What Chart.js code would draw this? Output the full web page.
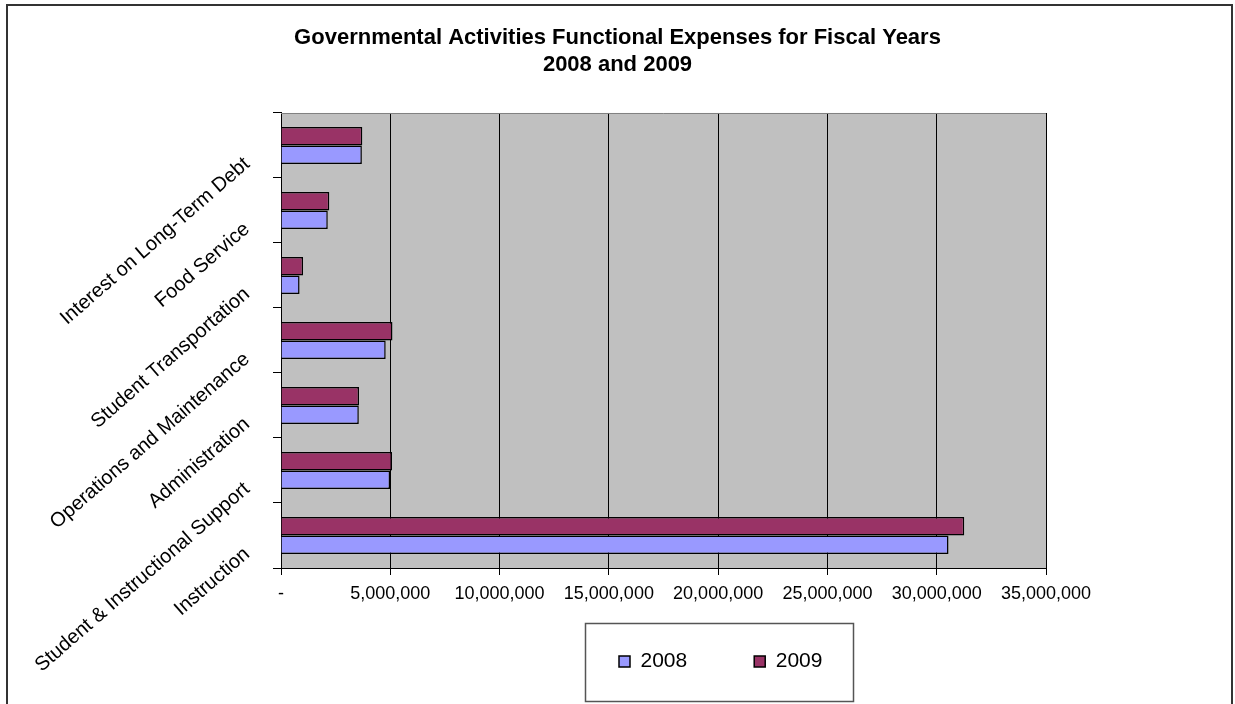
<!DOCTYPE html>
<html lang="en">
<head>
    <meta charset="UTF-8">
    <title>Governmental Activities Functional Expenses</title>
    <script src="https://cdn.jsdelivr.net/npm/chart.js"></script>
    <style>
        body {
            margin: 0;
            background: #fff;
            overflow: hidden;
        }

        /* area do grafico, tamanho fixo da janela */
        .chart-wrap {
            position: relative;
            width: 1235px;
            height: 704px;
        }

        /* moldura externa do grafico (estilo Excel) */
        .frame {
            position: absolute;
            left: 6px;
            top: 4px;
            width: 1227px;
            height: 760px;
            box-sizing: border-box;
            border: 2px solid #333;
            pointer-events: none;
        }
    </style>
</head>
<body>

    <div class="chart-wrap">
        <canvas id="expChart"></canvas>
        <div class="frame"></div>
    </div>

    <script>
        // Categorias, de cima para baixo
        const categories = [
            'Interest on Long-Term Debt',
            'Food Service',
            'Student Transportation',
            'Operations and Maintenance',
            'Administration',
            'Student & Instructional Support',
            'Instruction'
        ];

        // Valores
        const values2008 = [3700000, 2140000, 850000, 4790000, 3560000, 4990000, 30540000];
        const values2009 = [3720000, 2210000, 1010000, 5100000, 3570000, 5080000, 31260000];

        // Eixo X
        const xMin = 0;
        const xMax = 35000000;
        const xStep = 5000000;

        Chart.defaults.font.family = '"Liberation Sans", Arial, sans-serif';
        Chart.defaults.color = '#000';

        // Fundo cinza da area de plotagem e moldura da legenda
        const plotDecor = {
            id: 'plotDecor',
            beforeDraw(chart) {
                const { ctx, chartArea: a } = chart;
                ctx.save();
                ctx.fillStyle = '#C0C0C0';
                ctx.fillRect(a.left, a.top, a.right - a.left, a.bottom - a.top);
                ctx.restore();
            },
            afterDraw(chart) {
                const { ctx, chartArea: a } = chart;
                ctx.save();
                ctx.strokeStyle = '#808080';
                ctx.lineWidth = 1;
                ctx.beginPath();
                ctx.moveTo(a.left, a.top + 0.5);
                ctx.lineTo(a.right, a.top + 0.5);
                ctx.stroke();
                // caixa da legenda
                ctx.strokeStyle = '#555';
                ctx.lineWidth = 1.5;
                ctx.strokeRect(585.5, 623.5, 268, 78);
                ctx.restore();
            }
        };

        // Centraliza o titulo na largura toda e move a legenda para a caixa
        const blockShift = {
            id: 'blockShift',
            afterLayout(chart) {
                const tb = chart.titleBlock;
                if (tb) {
                    const dx = chart.width / 2 - (tb.left + tb.right) / 2;
                    tb.left += dx;
                    tb.right += dx;
                }
                const lg = chart.legend;
                if (!lg || !lg.lineWidths) return;
                const pad = lg.options.labels.padding;
                const firstX = (lg.left + pad + lg.right - lg.lineWidths[0]) / 2;
                const dx = 619 - firstX;
                lg.left += dx;
                lg.right += dx;
                const dy = (651 - pad) - lg.top;
                lg.top += dy;
                lg.bottom += dy;
            }
        };

        const ctx = document.getElementById('expChart').getContext('2d');
        const expChart = new Chart(ctx, {
            type: 'bar',
            data: {
                labels: categories,
                datasets: [
                    {
                        label: '2009',
                        data: values2009,
                        backgroundColor: '#993366',
                        borderColor: '#000',
                        borderWidth: 1.5,
                        categoryPercentage: 0.57,
                        barPercentage: 1.0
                    },
                    {
                        label: '2008',
                        data: values2008,
                        backgroundColor: '#9999FF',
                        borderColor: '#000',
                        borderWidth: 1.5,
                        categoryPercentage: 0.57,
                        barPercentage: 1.0
                    }
                ]
            },
            options: {
                indexAxis: 'y',
                responsive: true,
                maintainAspectRatio: false,
                animation: false,
                layout: {
                    padding: { left: 0, right: 189, top: 0, bottom: 4 }
                },
                plugins: {
                    title: {
                        display: true,
                        text: ['Governmental Activities Functional Expenses for Fiscal Years', '2008 and 2009'],
                        font: { size: 22, weight: 'bold', lineHeight: 1.227 },
                        color: '#000',
                        padding: { top: 24.5, bottom: 34.5 }
                    },
                    legend: {
                        position: 'bottom',
                        reverse: true,
                        labels: {
                            boxWidth: 11,
                            boxHeight: 11,
                            padding: 67,
                            font: { size: 21 },
                            color: '#000'
                        }
                    },
                    tooltip: { enabled: false }
                },
                scales: {
                    x: {
                        min: xMin,
                        max: xMax,
                        afterFit(scale) { scale.height = 34; },
                        ticks: {
                            stepSize: xStep,
                            padding: 8,
                            maxRotation: 0,
                            font: { size: 18 },
                            color: '#000',
                            callback: (v) => v === 0 ? '-' : Number(v).toLocaleString('en-US')
                        },
                        grid: {
                            color: '#000',
                            lineWidth: 1,
                            tickLength: 7,
                            drawOnChartArea: true
                        },
                        border: { color: '#000', width: 1 }
                    },
                    y: {
                        afterFit(scale) { scale.width = 281; },
                        ticks: {
                            minRotation: 41,
                            maxRotation: 41,
                            padding: 26,
                            labelOffset: 16,
                            font: { size: 20 },
                            color: '#000',
                            autoSkip: false
                        },
                        grid: {
                            offset: true,
                            drawOnChartArea: false,
                            drawTicks: true,
                            tickLength: 8,
                            color: '#000'
                        },
                        border: { color: '#000', width: 1 }
                    }
                }
            },
            plugins: [plotDecor, blockShift]
        });
    </script>

</body>
</html>
